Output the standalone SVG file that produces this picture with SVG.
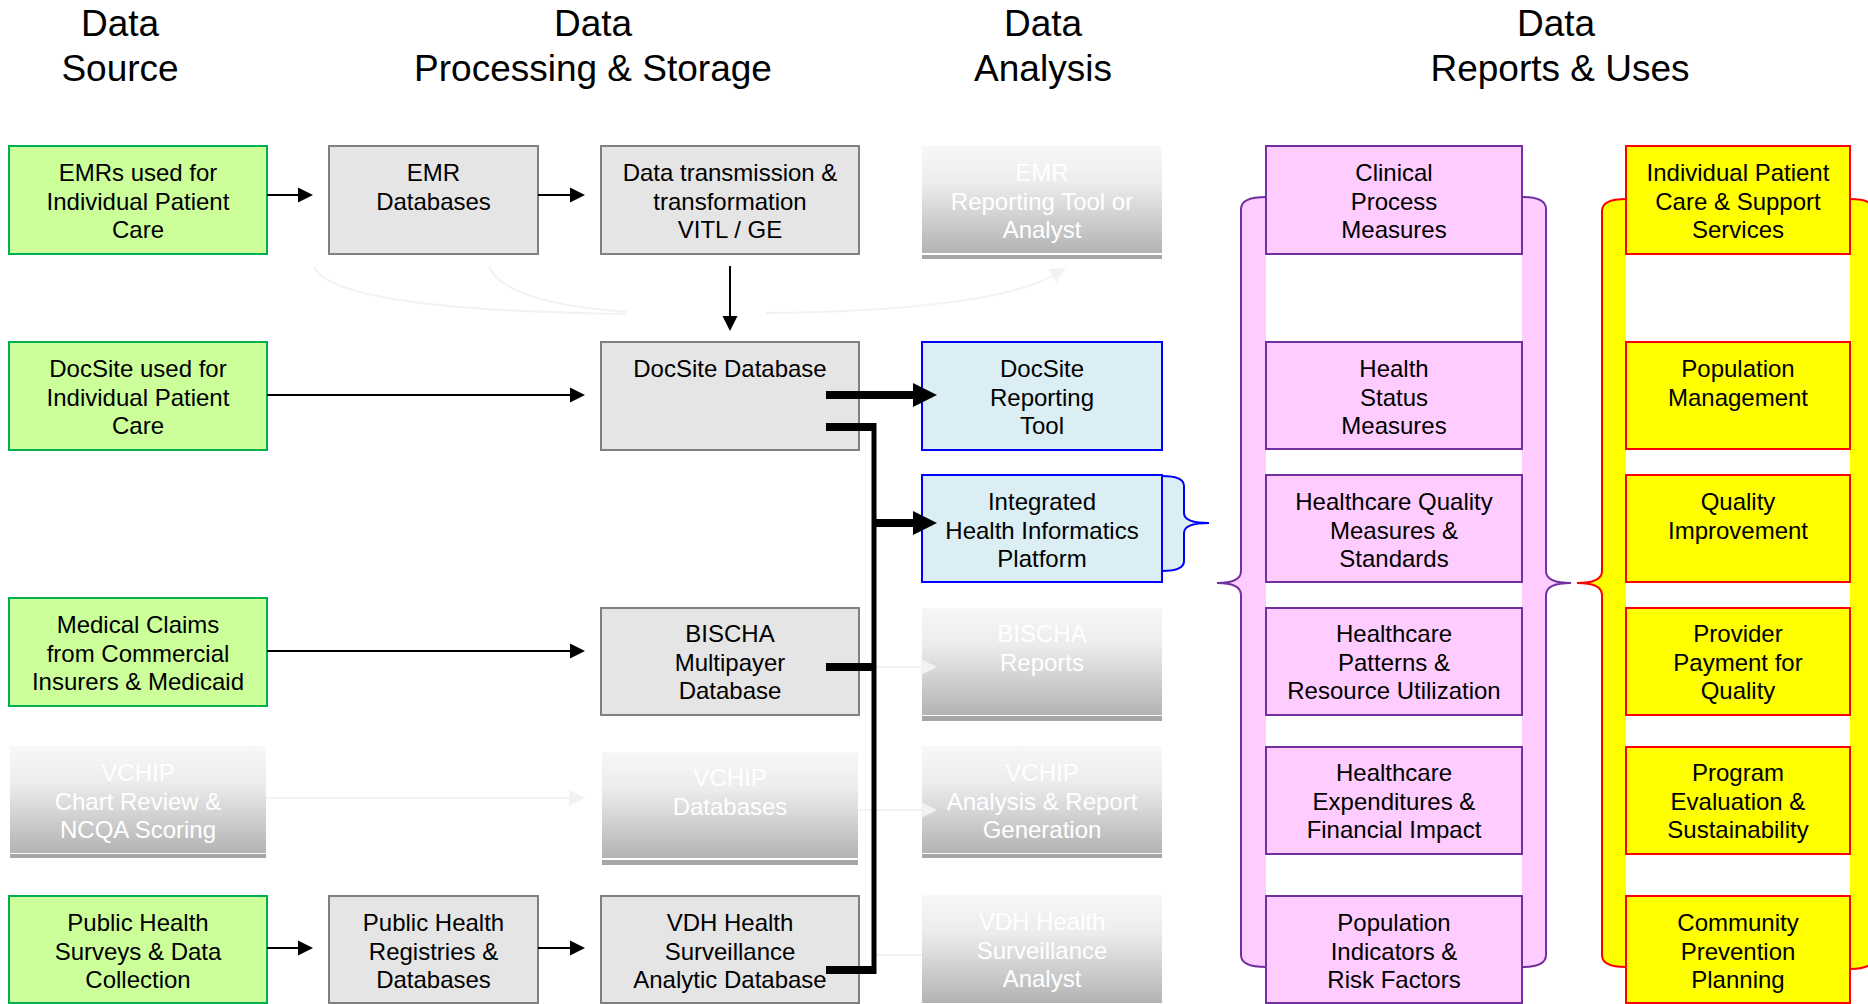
<svg xmlns="http://www.w3.org/2000/svg" width="1868" height="1004" viewBox="0 0 1868 1004">
<style>
text{font-family:"Liberation Sans",Arial,sans-serif;font-size:24px;text-anchor:middle;fill:#000}
.hd{font-size:37px}
.g{fill:#ccff99;stroke:#00b050;stroke-width:2}
.s{fill:#e5e5e5;stroke:#808080;stroke-width:2}
.c{fill:#daeef3;stroke:#0000ff;stroke-width:2}
.p{fill:#ffccff;stroke:#7030a0;stroke-width:2}
.y{fill:#ffff00;stroke:#ff0000;stroke-width:2}
.gh{fill:url(#ghg)}
.bar{fill:#a6a6a6}
.gt{fill:#ffffff}
.ln{stroke:#000;stroke-width:2;fill:none}
.tk{stroke:#000;stroke-width:8;fill:none}
.vt{stroke:#000;stroke-width:5;fill:none}
.fl{stroke:#f2f2f2;stroke-width:2;fill:none}
</style>
<defs>
<linearGradient id="ghg" x1="0" y1="0" x2="0" y2="1">
<stop offset="0" stop-color="#f8f8f8"/>
<stop offset="0.35" stop-color="#ececec"/>
<stop offset="1" stop-color="#b3b3b3"/>
</linearGradient>
<marker id="ah" markerUnits="userSpaceOnUse" markerWidth="16" markerHeight="16" viewBox="0 0 16 16" refX="0" refY="8" orient="auto"><path d="M0,0.5 L15,8 L0,15.5 Z" fill="#000"/></marker>
<marker id="ahk" markerUnits="userSpaceOnUse" markerWidth="26" markerHeight="26" viewBox="0 0 26 26" refX="0" refY="13" orient="auto"><path d="M0,1 L24,13 L0,25 Z" fill="#000"/></marker>
<marker id="ahf" markerUnits="userSpaceOnUse" markerWidth="18" markerHeight="18" viewBox="0 0 18 18" refX="0" refY="9" orient="auto"><path d="M0,1 L16,9 L0,17 Z" fill="#f2f2f2"/></marker>
</defs>
<rect width="1868" height="1004" fill="#fff"/>

<g id="headers">
<text class="hd" x="120" y="36">Data</text><text class="hd" x="120" y="81">Source</text>
<text class="hd" x="593" y="36">Data</text><text class="hd" x="593" y="81">Processing &amp; Storage</text>
<text class="hd" x="1043" y="36">Data</text><text class="hd" x="1043" y="81">Analysis</text>
<text class="hd" x="1556" y="36">Data</text><text class="hd" x="1560" y="81">Reports &amp; Uses</text>
</g>

<g id="brace-pink-left"><path class="p" d="M1266,197 Q1241,197 1241,209 L1241,571 Q1241,583 1217,583 Q1241,583 1241,595 L1241,955 Q1241,967 1266,967"/></g>
<g id="brace-pink-right"><path class="p" d="M1522,197 Q1546,197 1546,209 L1546,571 Q1546,583 1571,583 Q1546,583 1546,595 L1546,955 Q1546,967 1522,967"/></g>
<g id="brace-yellow-left"><path class="y" d="M1626,199 Q1602,199 1602,211 L1602,571 Q1602,583 1577,583 Q1602,583 1602,595 L1602,955 Q1602,967 1626,967"/></g>
<g id="brace-yellow-right"><path class="y" d="M1850,199 Q1874,199 1874,211 L1874,571 Q1874,583 1899,583 Q1874,583 1874,595 L1874,957 Q1874,969 1850,969"/></g>
<g id="brace-ihip"><path class="c" d="M1162,476 Q1184,476 1184,486 L1184,513 Q1184,523 1209,523 Q1184,523 1184,533 L1184,561 Q1184,571 1162,571"/></g>

<g id="n-emrs"><rect class="g" x="9" y="146" width="258" height="108"/><text x="138" y="181">EMRs used for<tspan x="138" dy="28.5">Individual Patient</tspan><tspan x="138" dy="28.5">Care</tspan></text></g>
<g id="n-docsite-src"><rect class="g" x="9" y="342" width="258" height="108"/><text x="138" y="377">DocSite used for<tspan x="138" dy="28.5">Individual Patient</tspan><tspan x="138" dy="28.5">Care</tspan></text></g>
<g id="n-medical"><rect class="g" x="9" y="598" width="258" height="108"/><text x="138" y="633">Medical Claims<tspan x="138" dy="28.5">from Commercial</tspan><tspan x="138" dy="28.5">Insurers &amp; Medicaid</tspan></text></g>
<g id="n-vchip-src"><rect class="gh" x="10" y="746" width="256" height="107"/><rect class="bar" x="10" y="854" width="256" height="4"/><text class="gt" x="138" y="781">VCHIP<tspan x="138" dy="28.5">Chart Review &amp;</tspan><tspan x="138" dy="28.5">NCQA Scoring</tspan></text></g>
<g id="n-ph-surveys"><rect class="g" x="9" y="896" width="258" height="107"/><text x="138" y="931">Public Health<tspan x="138" dy="28.5">Surveys &amp; Data</tspan><tspan x="138" dy="28.5">Collection</tspan></text></g>

<g id="n-emr-db"><rect class="s" x="329" y="146" width="209" height="108"/><text x="433.5" y="181">EMR<tspan x="433.5" dy="28.5">Databases</tspan></text></g>
<g id="n-ph-reg"><rect class="s" x="329" y="896" width="209" height="107"/><text x="433.5" y="931">Public Health<tspan x="433.5" dy="28.5">Registries &amp;</tspan><tspan x="433.5" dy="28.5">Databases</tspan></text></g>

<g id="n-transmission"><rect class="s" x="601" y="146" width="258" height="108"/><text x="730" y="181">Data transmission &amp;<tspan x="730" dy="28.5">transformation</tspan><tspan x="730" dy="28.5">VITL / GE</tspan></text></g>
<g id="n-docsite-db"><rect class="s" x="601" y="342" width="258" height="108"/><text x="730" y="377">DocSite Database</text></g>
<g id="n-bischa-db"><rect class="s" x="601" y="608" width="258" height="107"/><text x="730" y="642">BISCHA<tspan x="730" dy="28.5">Multipayer</tspan><tspan x="730" dy="28.5">Database</tspan></text></g>
<g id="n-vchip-db"><rect class="gh" x="602" y="752" width="256" height="106"/><rect class="bar" x="602" y="860" width="256" height="5"/><text class="gt" x="730" y="786">VCHIP<tspan x="730" dy="28.5">Databases</tspan></text></g>
<g id="n-vdh-db"><rect class="s" x="601" y="896" width="258" height="107"/><text x="730" y="931">VDH Health<tspan x="730" dy="28.5">Surveillance</tspan><tspan x="730" dy="28.5">Analytic Database</tspan></text></g>

<g id="n-emr-rep"><rect class="gh" x="922" y="146" width="240" height="107"/><rect class="bar" x="922" y="255" width="240" height="4"/><text class="gt" x="1042" y="181">EMR<tspan x="1042" dy="28.5">Reporting Tool or</tspan><tspan x="1042" dy="28.5">Analyst</tspan></text></g>
<g id="n-docsite-rep"><rect class="c" x="922" y="342" width="240" height="108"/><text x="1042" y="377">DocSite<tspan x="1042" dy="28.5">Reporting</tspan><tspan x="1042" dy="28.5">Tool</tspan></text></g>
<g id="n-ihip"><rect class="c" x="922" y="475" width="240" height="107"/><text x="1042" y="510">Integrated<tspan x="1042" dy="28.5">Health Informatics</tspan><tspan x="1042" dy="28.5">Platform</tspan></text></g>
<g id="n-bischa-rep"><rect class="gh" x="922" y="608" width="240" height="107"/><rect class="bar" x="922" y="716" width="240" height="5"/><text class="gt" x="1042" y="642">BISCHA<tspan x="1042" dy="28.5">Reports</tspan></text></g>
<g id="n-vchip-an"><rect class="gh" x="922" y="746" width="240" height="107"/><rect class="bar" x="922" y="854" width="240" height="4"/><text class="gt" x="1042" y="781">VCHIP<tspan x="1042" dy="28.5">Analysis &amp; Report</tspan><tspan x="1042" dy="28.5">Generation</tspan></text></g>
<g id="n-vdh-an"><rect class="gh" x="922" y="895" width="240" height="108"/><text class="gt" x="1042" y="930">VDH Health<tspan x="1042" dy="28.5">Surveillance</tspan><tspan x="1042" dy="28.5">Analyst</tspan></text></g>

<g id="n-clinical"><rect class="p" x="1266" y="146" width="256" height="108"/><text x="1394" y="181">Clinical<tspan x="1394" dy="28.5">Process</tspan><tspan x="1394" dy="28.5">Measures</tspan></text></g>
<g id="n-health-status"><rect class="p" x="1266" y="342" width="256" height="107"/><text x="1394" y="377">Health<tspan x="1394" dy="28.5">Status</tspan><tspan x="1394" dy="28.5">Measures</tspan></text></g>
<g id="n-hq"><rect class="p" x="1266" y="475" width="256" height="107"/><text x="1394" y="510">Healthcare Quality<tspan x="1394" dy="28.5">Measures &amp;</tspan><tspan x="1394" dy="28.5">Standards</tspan></text></g>
<g id="n-patterns"><rect class="p" x="1266" y="608" width="256" height="107"/><text x="1394" y="642">Healthcare<tspan x="1394" dy="28.5">Patterns &amp;</tspan><tspan x="1394" dy="28.5">Resource Utilization</tspan></text></g>
<g id="n-expend"><rect class="p" x="1266" y="747" width="256" height="107"/><text x="1394" y="781">Healthcare<tspan x="1394" dy="28.5">Expenditures &amp;</tspan><tspan x="1394" dy="28.5">Financial Impact</tspan></text></g>
<g id="n-pop-ind"><rect class="p" x="1266" y="896" width="256" height="107"/><text x="1394" y="931">Population<tspan x="1394" dy="28.5">Indicators &amp;</tspan><tspan x="1394" dy="28.5">Risk Factors</tspan></text></g>

<g id="n-indiv"><rect class="y" x="1626" y="146" width="224" height="108"/><text x="1738" y="181">Individual Patient<tspan x="1738" dy="28.5">Care &amp; Support</tspan><tspan x="1738" dy="28.5">Services</tspan></text></g>
<g id="n-popmgmt"><rect class="y" x="1626" y="342" width="224" height="107"/><text x="1738" y="377">Population<tspan x="1738" dy="28.5">Management</tspan></text></g>
<g id="n-qi"><rect class="y" x="1626" y="475" width="224" height="107"/><text x="1738" y="510">Quality<tspan x="1738" dy="28.5">Improvement</tspan></text></g>
<g id="n-provider"><rect class="y" x="1626" y="608" width="224" height="107"/><text x="1738" y="642">Provider<tspan x="1738" dy="28.5">Payment for</tspan><tspan x="1738" dy="28.5">Quality</tspan></text></g>
<g id="n-program"><rect class="y" x="1626" y="747" width="224" height="107"/><text x="1738" y="781">Program<tspan x="1738" dy="28.5">Evaluation &amp;</tspan><tspan x="1738" dy="28.5">Sustainability</tspan></text></g>
<g id="n-community"><rect class="y" x="1626" y="896" width="224" height="107"/><text x="1738" y="931">Community<tspan x="1738" dy="28.5">Prevention</tspan><tspan x="1738" dy="28.5">Planning</tspan></text></g>

<g id="connectors">
<path class="fl" d="M314,267 C330,300 460,312 627,314"/>
<path class="fl" d="M489,267 C500,290 540,306 627,312"/>
<path class="fl" d="M766,313 C900,312 1010,300 1052,276" marker-end="url(#ahf)"/>
<path class="fl" d="M266,798 L569,798" marker-end="url(#ahf)"/>
<path class="fl" d="M858,810 L921,810" marker-end="url(#ahf)"/>
<path class="fl" d="M874,667 L921,667" marker-end="url(#ahf)"/>
<path class="fl" d="M874,955 L922,955"/>

<path class="ln" d="M267,195 L298,195" marker-end="url(#ah)"/>
<path class="ln" d="M538,195 L570,195" marker-end="url(#ah)"/>
<path class="ln" d="M730,266 L730,316" marker-end="url(#ah)"/>
<path class="ln" d="M267,395 L570,395" marker-end="url(#ah)"/>
<path class="ln" d="M267,651 L570,651" marker-end="url(#ah)"/>
<path class="ln" d="M267,948 L298,948" marker-end="url(#ah)"/>
<path class="ln" d="M538,948 L570,948" marker-end="url(#ah)"/>

<path class="tk" d="M826,395 L913,395" marker-end="url(#ahk)"/>
<path class="vt" d="M874,423 L874,974"/>
<path class="tk" d="M826,427 L876,427"/>
<path class="tk" d="M874,523 L913,523" marker-end="url(#ahk)"/>
<path class="tk" d="M826,667 L876,667"/>
<path class="tk" d="M826,970 L876,970"/>
</g>
</svg>
